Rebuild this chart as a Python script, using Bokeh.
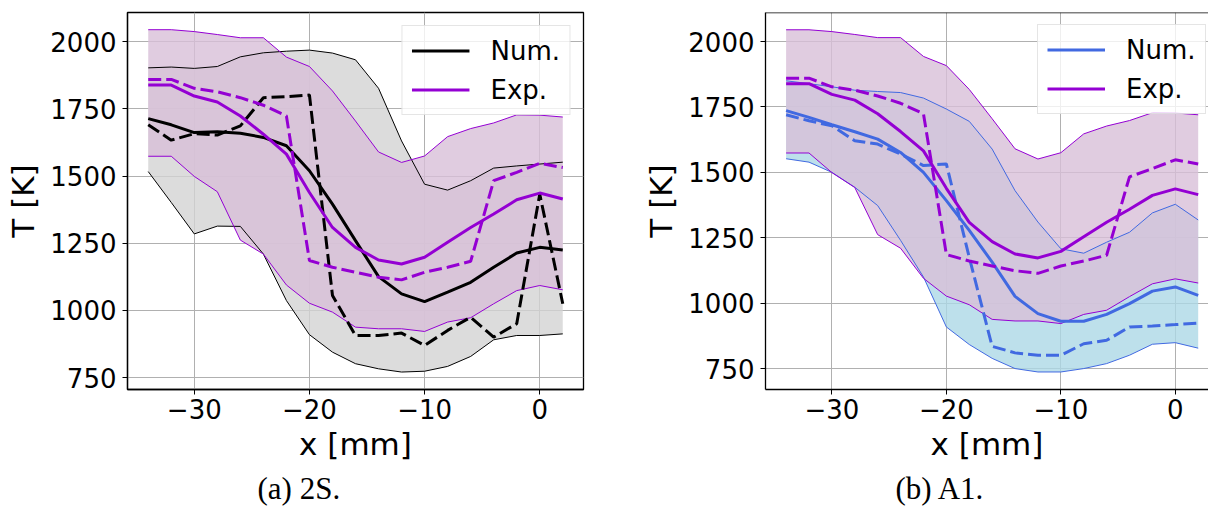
from bokeh.plotting import figure
from bokeh.models import Range1d, FixedTicker, Legend, LegendItem, Title, Span
from bokeh.layouts import row
from bokeh.embed import file_html
from bokeh.resources import INLINE

# ---------------- data ----------------
x_mm = [-34, -32, -30, -28, -26, -24, -22, -20, -18, -16, -14, -12, -10, -8, -6, -4, -2, 0, 2]

# experiment (same in both panels)
exp_mean = [1839, 1839, 1798, 1776, 1724, 1656, 1582, 1439, 1309, 1235, 1188, 1173, 1198, 1254, 1309, 1359, 1412, 1437, 1415]
exp_dash = [1860, 1860, 1827, 1814, 1792, 1764, 1724, 1186, 1161, 1142, 1124, 1114, 1142, 1161, 1183, 1483, 1514, 1548, 1532]
exp_upper = [2045, 2045, 2038, 2027, 2015, 2015, 1943, 1908, 1817, 1705, 1590, 1551, 1575, 1647, 1677, 1698, 1728, 1727, 1720]
exp_lower = [1574, 1574, 1499, 1442, 1262, 1210, 1095, 1027, 994, 938, 932, 932, 922, 957, 973, 1025, 1074, 1093, 1077]

# numerical, case 2S
s2_mean = [1714, 1691, 1662, 1665, 1660, 1644, 1613, 1520, 1396, 1260, 1126, 1062, 1033, 1068, 1105, 1161, 1214, 1235, 1225]
s2_dash = [1691, 1634, 1658, 1653, 1687, 1792, 1796, 1802, 1056, 907, 907, 916, 870, 926, 975, 901, 951, 1433, 1025]
s2_upper = [1903, 1906, 1901, 1908, 1944, 1959, 1965, 1969, 1958, 1933, 1827, 1631, 1470, 1448, 1483, 1530, 1538, 1545, 1552]
s2_lower = [1517, 1402, 1285, 1314, 1313, 1210, 1037, 910, 845, 802, 783, 771, 774, 792, 829, 891, 907, 907, 913]

# numerical, case A1
a1_mean = [1736, 1710, 1682, 1655, 1627, 1576, 1500, 1392, 1278, 1157, 1026, 960, 931, 931, 957, 998, 1046, 1062, 1030]
a1_dash = [1720, 1697, 1678, 1621, 1608, 1570, 1526, 1532, 1175, 835, 810, 801, 801, 845, 858, 909, 913, 918, 924]
a1_upper = [1850, 1839, 1827, 1814, 1809, 1805, 1784, 1742, 1695, 1589, 1430, 1310, 1208, 1191, 1233, 1271, 1345, 1378, 1318]
a1_lower = [1552, 1539, 1500, 1443, 1373, 1240, 1100, 909, 842, 789, 750, 737, 737, 750, 769, 801, 843, 849, 828]

x_ticks = [-30, -20, -10, 0]
x_tick_labels = ["\u221230", "\u221220", "\u221210", "0"]
y_ticks = [750, 1000, 1250, 1500, 1750, 2000]
legend_labels = ["Num.", "Exp."]
captions = ["(a) 2S.", "(b) A1."]

EXP_COLOR = "darkviolet"
EXP_FILL = "thistle"
TICK_FONT = "26px"
LABEL_FONT = "31px"


def make_panel(num_mean, num_dash, num_up, num_lo, num_color, num_fill,
               y0, y1, x1, width, min_left, min_right, caption, legend_loc, right_outline):
    p = figure(width=width, height=512, x_range=Range1d(-35.8, x1), y_range=Range1d(y0, y1),
               output_backend="svg", toolbar_location=None,
               min_border_left=min_left, min_border_right=min_right,
               min_border_top=12, min_border_bottom=123)
    p.background_fill_color = "white"
    p.border_fill_color = "white"
    if right_outline:
        p.outline_line_color = "black"
        p.outline_line_width = 1.3
    else:
        p.outline_line_color = None
        p.add_layout(Span(location=y1, dimension="width", line_color="black", line_width=1.3))

    # bands
    p.varea(x=x_mm, y1=num_lo, y2=num_up, fill_color=num_fill, fill_alpha=0.8)
    p.varea(x=x_mm, y1=exp_lower, y2=exp_upper, fill_color=EXP_FILL, fill_alpha=0.8)
    p.line(x_mm, num_up, line_color=num_color, line_width=1)
    p.line(x_mm, num_lo, line_color=num_color, line_width=1)
    p.line(x_mm, exp_upper, line_color=EXP_COLOR, line_width=1)
    p.line(x_mm, exp_lower, line_color=EXP_COLOR, line_width=1)

    # mean / dashed lines
    r_num = p.line(x_mm, num_mean, line_color=num_color, line_width=3)
    p.line(x_mm, num_dash, line_color=num_color, line_width=3, line_dash="13 5")
    r_exp = p.line(x_mm, exp_mean, line_color=EXP_COLOR, line_width=3)
    p.line(x_mm, exp_dash, line_color=EXP_COLOR, line_width=3, line_dash="13 5")

    # axes
    p.xaxis.ticker = FixedTicker(ticks=x_ticks)
    p.xaxis.major_label_overrides = dict(zip(x_ticks, x_tick_labels))
    p.yaxis.ticker = FixedTicker(ticks=y_ticks)
    for ax in (p.xaxis, p.yaxis):
        ax.major_label_text_font = "DejaVu Sans"
        ax.major_label_text_font_size = TICK_FONT
        ax.major_label_text_color = "black"
        ax.axis_label_text_font = "DejaVu Sans"
        ax.axis_label_text_font_size = LABEL_FONT
        ax.axis_label_text_font_style = "normal"
        ax.axis_label_text_color = "black"
        ax.major_tick_in = 0
        ax.major_tick_out = 5
        ax.minor_tick_in = 0
        ax.minor_tick_out = 0
        ax.major_tick_line_color = "black"
        ax.axis_line_color = "black"
        ax.axis_line_width = 1.3
    p.xaxis.axis_label = "x [mm]"
    p.yaxis.axis_label = "T [K]"
    p.xaxis.major_label_standoff = 4
    p.xaxis.axis_label_standoff = 4
    p.yaxis.major_label_standoff = 6
    p.yaxis.axis_label_standoff = 6

    p.grid.grid_line_color = "#b0b0b0"
    p.grid.grid_line_width = 1

    legend = Legend(items=[LegendItem(label=legend_labels[0], renderers=[r_num]),
                           LegendItem(label=legend_labels[1], renderers=[r_exp])],
                    location=legend_loc,
                    label_text_font="DejaVu Sans", label_text_font_size="26px",
                    label_text_color="black",
                    glyph_width=58, glyph_height=31, label_height=31,
                    spacing=8, padding=9, label_standoff=21, margin=13,
                    background_fill_color="white", background_fill_alpha=0.8,
                    border_line_color="#cccccc", border_line_width=1)
    p.add_layout(legend)

    p.add_layout(Title(text=caption, align="left", offset=130, standoff=8,
                       text_font="Liberation Serif", text_font_size="31px",
                       text_font_style="normal", text_color="black"), "below")
    return p


p1 = make_panel(s2_mean, s2_dash, s2_upper, s2_lower, "black", "lightgray",
                706, 2109, 3.8, 640, 127, 57, captions[0], "top_right", True)
p2 = make_panel(a1_mean, a1_dash, a1_upper, a1_lower, "royalblue", "lightblue",
                670, 2111, 2.9, 568, 123, 0, captions[1], (272, 275), False)

layout = row(p1, p2)
open("out.html", "w").write(file_html(layout, INLINE))
